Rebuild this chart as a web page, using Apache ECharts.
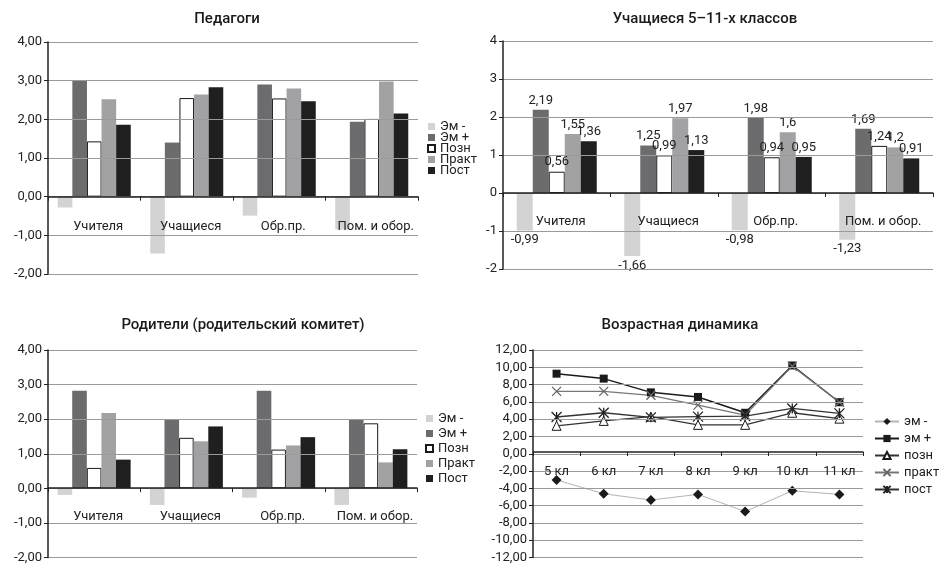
<!DOCTYPE html>
<html>
<head>
<meta charset="utf-8">
<script src="https://cdn.jsdelivr.net/npm/echarts@6/dist/echarts.min.js"></script>
<style>
  html, body { margin: 0; padding: 0; background: #fff; }
  #chart { width: 939px; height: 564px; }
</style>
</head>
<body>
<div id="chart"></div>
<script>
// категории
const cats = ['Учителя', 'Учащиеся', 'Обр.пр.', 'Пом. и обор.']
const barNames = ['Эм -', 'Эм +', 'Позн', 'Практ', 'Пост']

// Педагоги
const pedEmMinus = [-0.28, -1.47, -0.49, -0.85]
const pedEmPlus = [3.0, 1.40, 2.90, 1.94]
const pedPozn = [1.43, 2.55, 2.54, 2.01]
const pedPrakt = [2.52, 2.64, 2.80, 2.98]
const pedPost = [1.86, 2.83, 2.47, 2.15]

// Учащиеся 5-11-х классов
const stuEmMinus = [-0.99, -1.66, -0.98, -1.23]
const stuEmPlus = [2.19, 1.25, 1.98, 1.69]
const stuPozn = [0.56, 0.99, 0.94, 1.24]
const stuPrakt = [1.55, 1.97, 1.6, 1.2]
const stuPost = [1.36, 1.13, 0.95, 0.91]

// Родители
const parEmMinus = [-0.19, -0.48, -0.27, -0.48]
const parEmPlus = [2.82, 2.0, 2.82, 2.0]
const parPozn = [0.59, 1.46, 1.12, 1.88]
const parPrakt = [2.18, 1.36, 1.24, 0.75]
const parPost = [0.83, 1.79, 1.48, 1.13]

// Возрастная динамика
const grades = ['5 кл', '6 кл', '7 кл', '8 кл', '9 кл', '10 кл', '11 кл']
const lineNames = ['эм -', 'эм +', 'позн', 'практ', 'пост']
const ageEmMinus = [-3.04, -4.63, -5.35, -4.70, -6.68, -4.29, -4.70]
const ageEmPlus = [9.26, 8.69, 7.10, 6.57, 4.74, 10.21, 5.96]
const agePozn = [3.23, 3.80, 4.29, 3.34, 3.34, 4.74, 4.06]
const agePrakt = [7.21, 7.21, 6.76, 5.62, 4.48, 10.13, 5.96]
const agePost = [4.25, 4.74, 4.21, 4.29, 4.36, 5.24, 4.67]

const FONT = "Roboto, 'Liberation Sans', sans-serif"
const TXT = '#222'
const GRID_LINE = '#9a9a9a'
const AXIS_LINE = '#222'

const grids = [
    { left: 48, top: 42, width: 370, height: 232 },
    { left: 503, top: 41, width: 430, height: 228 },
    { left: 48, top: 350, width: 369, height: 208 },
    { left: 533, top: 350, width: 330, height: 211 }
]
// диапазоны осей значений
const yRanges = [[-2, 4, 1, 2], [-2, 4, 1, 0], [-2, 4, 1, 2], [-12, 12, 2, 2]]

const barStyles = [
    { color: '#d3d3d4' },
    { color: '#6c6c6e' },
    { color: '#ffffff', borderColor: '#1a1a1a', borderWidth: 1 },
    { color: '#a2a2a4' },
    { color: '#1f1f1f' }
]

const comma = (v, d) => v.toFixed(d).replace('.', ',')

const makeYAxis = (gridIndex) => {
    const [min, max, interval, digits] = yRanges[gridIndex]
    return {
        gridIndex: gridIndex,
        type: 'value',
        min: min,
        max: max,
        interval: interval,
        z: 5,
        axisLine: { show: true, onZero: false, lineStyle: { color: AXIS_LINE, width: 1.5 } },
        axisTick: { show: true, length: 4, lineStyle: { color: AXIS_LINE } },
        splitLine: { show: true, lineStyle: { color: GRID_LINE, width: 1 } },
        axisLabel: {
            margin: 6,
            color: TXT,
            fontFamily: FONT,
            fontSize: 13,
            formatter: v => comma(v, digits)
        }
    }
}

// категориальная ось переносится на линию нуля через offset
const makeXAxis = (gridIndex, data, margin, pad) => {
    const [min, max] = yRanges[gridIndex]
    const zeroShift = grids[gridIndex].height * (0 - min) / (max - min)
    return {
        gridIndex: gridIndex,
        type: 'category',
        data: data,
        position: 'bottom',
        offset: -zeroShift,
        boundaryGap: true,
        z: 5,
        axisLine: { show: true, onZero: false, lineStyle: { color: AXIS_LINE, width: 1.5 } },
        axisTick: { show: true, length: 4, inside: false, alignWithLabel: false, lineStyle: { color: AXIS_LINE } },
        axisLabel: {
            interval: 0,
            margin: margin,
            padding: [0, 0, 0, pad],
            color: TXT,
            fontFamily: FONT,
            fontSize: 13
        }
    }
}

const barSeries = (axisIndex, arrays, width, withLabels) => arrays.map((arr, i) => ({
    name: barNames[i],
    type: 'bar',
    xAxisIndex: axisIndex,
    yAxisIndex: axisIndex,
    barWidth: width,
    barGap: '0%',
    itemStyle: barStyles[i],
    label: withLabels ? {
        show: true,
        color: TXT,
        fontFamily: FONT,
        fontSize: 13,
        formatter: p => String(p.value).replace('.', ',')
    } : { show: false },
    data: arr.map(v => withLabels ? { value: v, label: { position: v < 0 ? 'bottom' : 'top', distance: 3 } } : v)
}))

const titleStyle = { color: '#1a1a1a', fontFamily: FONT, fontSize: 15, fontWeight: 500 }

const chartInstance = echarts.init(document.getElementById('chart'), null, { renderer: 'canvas' })

const option = {
    backgroundColor: '#fff',
    animation: false,
    title: [
        { text: 'Педагоги', left: 227, top: 12, textAlign: 'center', padding: 0, textStyle: titleStyle },
        { text: 'Учащиеся 5–11-х классов', left: 705, top: 12, textAlign: 'center', padding: 0, textStyle: titleStyle },
        { text: 'Родители (родительский комитет)', left: 243, top: 318, textAlign: 'center', padding: 0, textStyle: titleStyle },
        { text: 'Возрастная динамика', left: 680, top: 318, textAlign: 'center', padding: 0, textStyle: titleStyle }
    ],
    legend: [
        {
            data: barNames, orient: 'vertical', left: 427, top: 120, padding: 0,
            itemWidth: 7, itemHeight: 7, itemGap: -2, icon: 'rect',
            textStyle: { color: TXT, fontFamily: FONT, fontSize: 13, lineHeight: 11 }
        },
        {
            data: barNames, orient: 'vertical', left: 425, top: 411, padding: 0,
            itemWidth: 7, itemHeight: 7, itemGap: 0, icon: 'rect',
            textStyle: { color: TXT, fontFamily: FONT, fontSize: 13, lineHeight: 15 }
        },
        {
            data: lineNames, orient: 'vertical', left: 874, top: 413, padding: 0,
            itemWidth: 24, itemHeight: 9, itemGap: 0,
            textStyle: { color: TXT, fontFamily: FONT, fontSize: 13, lineHeight: 17 }
        }
    ],
    grid: grids,
    xAxis: [
        makeXAxis(0, cats, 24, 8),
        makeXAxis(1, cats, 22, 8),
        makeXAxis(2, cats, 22, 8),
        makeXAxis(3, grades, 13, 0)
    ],
    yAxis: [makeYAxis(0), makeYAxis(1), makeYAxis(2), makeYAxis(3)],
    series: [
        ...barSeries(0, [pedEmMinus, pedEmPlus, pedPozn, pedPrakt, pedPost], 14.6, false),
        ...barSeries(1, [stuEmMinus, stuEmPlus, stuPozn, stuPrakt, stuPost], 16, true),
        ...barSeries(2, [parEmMinus, parEmPlus, parPozn, parPrakt, parPost], 14.6, false),
        {
            name: lineNames[0], type: 'line', xAxisIndex: 3, yAxisIndex: 3,
            symbol: 'diamond', symbolSize: 10,
            lineStyle: { color: '#b5b5b5', width: 1 },
            itemStyle: { color: '#1a1a1a' },
            data: ageEmMinus
        },
        {
            name: lineNames[1], type: 'line', xAxisIndex: 3, yAxisIndex: 3,
            symbol: 'rect', symbolSize: 8,
            lineStyle: { color: '#1a1a1a', width: 1.5 },
            itemStyle: { color: '#1a1a1a' },
            data: ageEmPlus
        },
        {
            name: lineNames[2], type: 'line', xAxisIndex: 3, yAxisIndex: 3,
            symbol: 'triangle', symbolSize: 9, showAllSymbol: true,
            lineStyle: { color: '#333', width: 1.3 },
            itemStyle: { color: '#fff', borderColor: '#1a1a1a', borderWidth: 1 },
            data: agePozn
        },
        {
            name: lineNames[3], type: 'line', xAxisIndex: 3, yAxisIndex: 3,
            symbol: 'path://M0,0L10,10M10,0L0,10', symbolSize: 9,
            lineStyle: { color: '#777', width: 1.3 },
            itemStyle: { color: 'none', borderColor: '#666', borderWidth: 1.3 },
            data: agePrakt
        },
        {
            name: lineNames[4], type: 'line', xAxisIndex: 3, yAxisIndex: 3,
            symbol: 'path://M0,0L10,10M10,0L0,10M5,0L5,10', symbolSize: 10,
            lineStyle: { color: '#333', width: 1.3 },
            itemStyle: { color: 'none', borderColor: '#222', borderWidth: 1.3 },
            data: agePost
        }
    ]
}

chartInstance.setOption(option)
</script>
</body>
</html>
